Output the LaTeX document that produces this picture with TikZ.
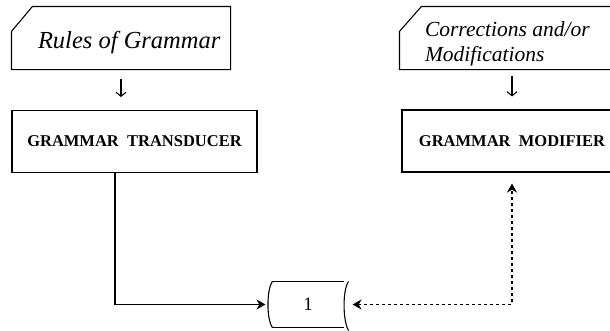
\documentclass[tikz,border=0pt]{standalone}
\usepackage{fontspec}
\setmainfont{Liberation Serif}
\usepackage{tikz}
\usetikzlibrary{calc}
\usetikzlibrary{arrows.meta}

\begin{document}
\begin{tikzpicture}[x=1pt, y=-1pt, line width=1.1pt,
        card/.style={minimum height=62pt, inner sep=0pt},
        cardtext/.style={anchor=west, inner sep=0pt, align=left, font=\fontsize{24.5}{25}\selectfont\itshape},
        box/.style={draw, minimum height=62pt, inner sep=0pt, font=\fontsize{16.5}{19}\selectfont\bfseries},
        down/.style={-{Straight Barb[length=4pt,width=10pt]}},
        flow/.style={-{Stealth[length=9pt,width=10pt]}},
        feed/.style={{Stealth[length=9pt,width=10pt]}-{Stealth[length=9pt,width=10pt]}, dash pattern=on 3pt off 3pt}]
        \clip (0,0) rectangle (610,330);

        \node (rules) at (121,38) [card, minimum width=218pt] {};
        \draw ([xshift=21pt]rules.north west) -- (rules.north east) -- (rules.south east)
            -- (rules.south west) -- ([yshift=-25pt]rules.north west) -- cycle;
        \node (rulestext) at ([xshift=26pt,yshift=-4pt]rules.west) [cardtext] {Rules of Grammar};

        \node (corr) at (520,38) [card, minimum width=240pt] {};
        \draw ([xshift=22pt]corr.north west) -- (corr.north east) -- (corr.south east)
            -- (corr.south west) -- ([yshift=-25pt]corr.north west) -- cycle;
        \node (corrtext) at ([xshift=25pt,yshift=-6pt]corr.west) [cardtext, font=\fontsize{21.5}{25}\selectfont\itshape]
            {Corrections and/or\\Modifications};

        \node (transducer) at (134.5,141.5) [box, minimum width=245pt] {GRAMMAR~~TRANSDUCER};
        \node (modifier) at (512,141) [box, minimum width=220pt] {GRAMMAR~~MODIFIER};

        \node (tape) at (308,304.5) [minimum width=70pt, minimum height=45pt, font=\fontsize{19}{22}\selectfont] {1};
        \draw (tape.north west) .. controls +(-6,8) and +(-6,-8) .. (tape.south west);
        \draw (tape.north west) -- (tape.north east);
        \draw (tape.south west) -- (tape.south east);
        \draw ([xshift=5pt]tape.north east) .. controls +(-6,8) and +(-6,-10) .. ([xshift=5pt,yshift=-3pt]tape.south east);

        \draw [down, shorten <=9pt, shorten >=13pt] (rules.south) -- (rules.south |- transducer.north);
        \draw [down, shorten <=6pt, shorten >=13pt] (modifier.north |- corr.south) -- (modifier.north);

        \draw [flow, shorten >=7pt] ([xshift=-19.5pt]transducer.south) |- (tape.west);
        \draw [feed, shorten <=9pt, shorten >=11pt] (tape.east) -| (modifier.south);
    \end{tikzpicture}
\end{document}
